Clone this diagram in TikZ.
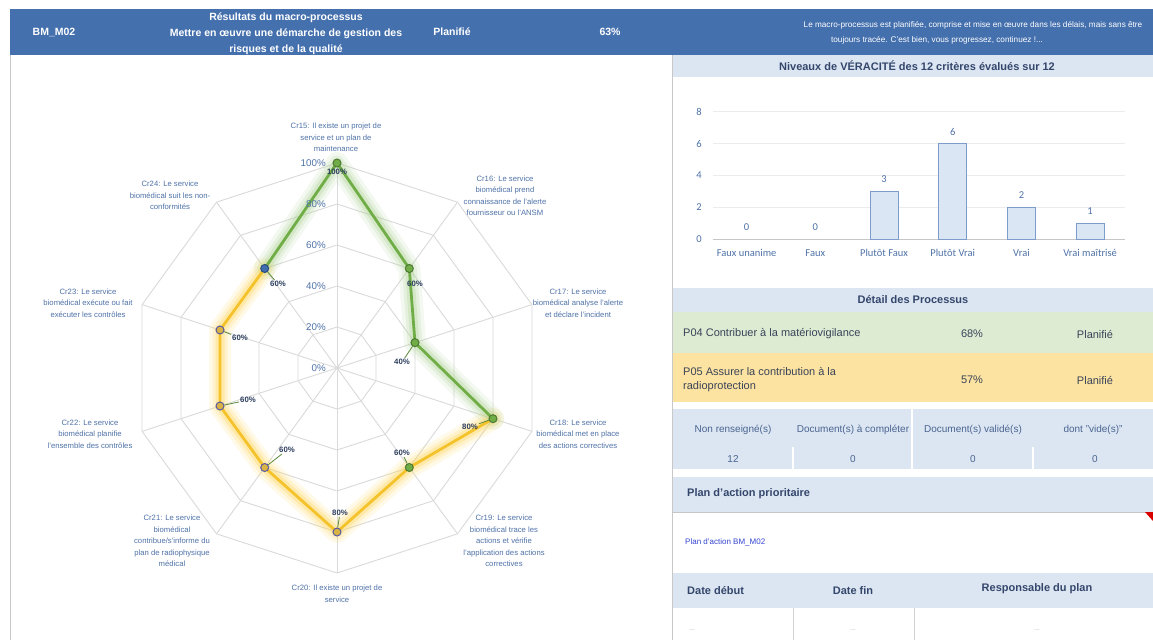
\documentclass[tikz,border=0pt]{standalone}
\usepackage{fontspec}
\setmainfont{Liberation Sans}
\newfontfamily\chartfont{Carlito}
\usetikzlibrary{calc}
\definecolor{hdrblue}{HTML}{4470AE}
\definecolor{paleblue}{HTML}{DCE6F2}
\definecolor{gridgray}{HTML}{DADADA}
\definecolor{axisblue}{HTML}{4F72A8}
\definecolor{navy}{HTML}{2E3F5F}
\definecolor{pgreen}{HTML}{DDEBD3}
\definecolor{pyellow}{HTML}{FCE3A1}
\definecolor{lgreen}{HTML}{70AD47}
\definecolor{lyellow}{HTML}{F4C22B}
\definecolor{glowyellow}{HTML}{FFD54F}
\definecolor{glowgreen}{HTML}{A9D18E}
\definecolor{dotyellow}{HTML}{D9B443}
\definecolor{dotblue}{HTML}{3E6EB0}
\definecolor{barfill}{HTML}{DAE6F4}
\definecolor{barline}{HTML}{7E9CCB}
\definecolor{txtdark}{HTML}{3A4358}
\definecolor{ttitle}{HTML}{34466B}
\definecolor{tblue}{HTML}{4A6490}
\definecolor{linkblue}{HTML}{3445D0}
\definecolor{bordergray}{HTML}{C8C8C8}
\begin{document}
\begin{tikzpicture}[x=1pt,y=-1pt,
  hdr/.style={text=white,font=\fontsize{10.5}{16}\selectfont\bfseries,inner sep=0pt},
  msg/.style={text=white,font=\fontsize{8.2}{10}\selectfont,inner sep=0pt},
  crlab/.style={text=axisblue,align=center,font=\fontsize{7.7}{11.5}\selectfont,inner sep=0pt},
  ticklab/.style={text=axisblue,font=\fontsize{9.8}{11}\selectfont,anchor=east,inner sep=0pt},
  datalab/.style={text=navy,font=\fontsize{7.8}{9}\selectfont\bfseries,inner sep=1pt},
  chartlab/.style={text=axisblue,font=\chartfont\fontsize{10.5}{12}\selectfont,inner sep=0pt},
  rowtitle/.style={text=ttitle,font=\fontsize{11}{13}\selectfont\bfseries,inner sep=0pt},
  rowtxt/.style={text=txtdark,font=\fontsize{11}{14}\selectfont,inner sep=0pt},
  tbltxt/.style={text=tblue,font=\fontsize{10}{12}\selectfont,inner sep=0pt},
  linktxt/.style={text=linkblue,font=\fontsize{8}{10}\selectfont,inner sep=0pt},
  dotstxt/.style={text=gray!60,font=\fontsize{7}{8}\selectfont,inner sep=0pt},
  grid/.style={draw=gridgray,line width=0.9pt},
  chartgrid/.style={draw=gray!15,line width=0.8pt},
  bar/.style={fill=barfill,draw=barline,line width=0.8pt},
  dot/.style={circle,inner sep=0pt,minimum size=8pt,line width=1pt},
  leader/.style={draw=lgreen!80!black,line width=0.8pt},
  sep/.style={draw=white,line width=1.2pt}]
\useasboundingbox (0,0) rectangle (1153,640);
\fill[white] (0,0) rectangle (1153,640);

% ---------- header ----------
\fill[hdrblue] (10,9) rectangle (1153,55);
\node[hdr] (bm) at (54,32) {BM\_M02};
\node[hdr,align=center] (title) at (286,33.5) {Résultats du macro-processus\\Mettre en œuvre une démarche de gestion des\\risques et de la qualité};
\node[hdr] (plan) at (452,32) {Planifié};
\node[hdr] (pct) at (610,32) {63\%};
\node[msg] (msg1) at (973,25) {Le macro-processus est planifiée, comprise et mise en œuvre dans les délais, mais sans être};
\node[msg] (msg2) at (937,40) {toujours tracée. C'est bien, vous progressez, continuez !...};

% panel borders
\draw[bordergray] (10.5,55) -- (10.5,640);
\draw[bordergray] (672.5,55) -- (672.5,640);

% ---------- bar chart ----------
\fill[paleblue] (673,55) rectangle (1153,77);
\node[rowtitle] (niv) at (917,66) {Niveaux de VÉRACITÉ des 12 critères évalués sur 12};
\foreach \v in {2,4,6,8} \draw[chartgrid] (713,{239-15.9*\v}) -- (1125,{239-15.9*\v});
\draw[gray!45,line width=0.8pt] (713,239) -- (1125,239);
\foreach \v in {0,2,4,6,8} \node[chartlab,anchor=east] (y\v) at (702,{239-15.9*\v}) {\v};
\foreach \i/\name/\v in {0/Faux unanime/0,1/Faux/0,2/Plutôt Faux/3,3/Plutôt Vrai/6,4/Vrai/2,5/Vrai maîtrisé/1}{
  \pgfmathsetmacro\cx{746.6+68.7*\i}
  \ifnum\v>0 \draw[bar] (\cx-14,239) rectangle (\cx+14,{239-15.9*\v}); \fi
  \node[chartlab] (v\i) at (\cx,{239-15.9*\v-12}) {\v};
  \node[chartlab] (c\i) at (\cx,253) {\name};
}

% ---------- detail ----------
\fill[paleblue] (673,288) rectangle (1153,312);
\node[rowtitle] (det) at (913,300) {Détail des Processus};
\fill[pgreen] (673,312) rectangle (1153,353);
\node[rowtxt,anchor=west] (p04) at (683,334) {P04 Contribuer à la matériovigilance};
\node[rowtxt] (p04v) at (972,334) {68\%};
\node[rowtxt] (p04s) at (1095,334) {Planifié};
\fill[pyellow] (673,353) rectangle (1153,402);
\node[rowtxt,anchor=west,align=left] (p05) at (683,380) {P05 Assurer la contribution à la\\radioprotection};
\node[rowtxt] (p05v) at (972,380) {57\%};
\node[rowtxt] (p05s) at (1095,380) {Planifié};

% ---------- documents table ----------
\fill[paleblue] (673,409) rectangle (1153,469);
\draw[sep] (912,409) -- (912,469);
\draw[sep] (793,447) -- (793,469);
\draw[sep] (1033,447) -- (1033,469);
\node[tbltxt] (h1) at (733,430) {Non renseigné(s)};
\node[tbltxt] (h2) at (853,430) {Document(s) à compléter};
\node[tbltxt] (h3) at (973,430) {Document(s) validé(s)};
\node[tbltxt] (h4) at (1093,430) {dont "vide(s)"};
\node[tbltxt] (n1) at (733,459) {12};
\node[tbltxt] (n2) at (853,459) {0};
\node[tbltxt] (n3) at (973,459) {0};
\node[tbltxt] (n4) at (1095,459) {0};

% ---------- action plan ----------
\fill[paleblue] (673,477) rectangle (1153,512);
\draw[gray!45,line width=1pt] (673,512) -- (1153,512);
\node[rowtitle,anchor=west] (pap) at (687,494) {Plan d'action prioritaire};
\fill[red!85!black] (1145,512) -- (1153,512) -- (1153,521) -- cycle;
\node[linktxt,anchor=west] (papl) at (685,542) {Plan d'action BM\_M02};
\fill[paleblue] (673,573) rectangle (1153,608);
\node[rowtitle,anchor=west] (dd) at (687,591) {Date début};
\node[rowtitle] (df) at (853,591) {Date fin};
\node[rowtitle] (rp) at (1037,589) {Responsable du plan};
\draw[gray!35,line width=1pt] (793,608) -- (793,640);
\draw[gray!35,line width=1pt] (914,608) -- (914,640);
\node[dotstxt] (e1) at (692,630) {...};
\node[dotstxt] (e2) at (853,630) {...};
\node[dotstxt] (e3) at (1037,630) {...};

% ---------- radar ----------
\begin{scope}[shift={(337pt,-368pt)},x=1pt,y=1pt]
  \foreach \r in {41,82,123,164,205}
    \draw[grid] (90:\r) -- (54:\r) -- (18:\r) -- (-18:\r) -- (-54:\r) -- (-90:\r) -- (-126:\r) -- (-162:\r) -- (162:\r) -- (126:\r) -- cycle;
  \foreach \a in {90,54,18,-18,-54,-90,-126,-162,162,126}
    \draw[grid] (0,0) -- (\a:205);
  \coordinate (p15) at (90:205);
  \coordinate (p16) at (54:123);
  \coordinate (p17) at (18:82);
  \coordinate (p18) at (-18:164);
  \coordinate (p19) at (-54:123);
  \coordinate (p20) at (-90:164);
  \coordinate (p21) at (-126:123);
  \coordinate (p22) at (-162:123);
  \coordinate (p23) at (162:123);
  \coordinate (p24) at (126:123);
\end{scope}

% glow
\foreach \w/\o in {22/0.13,15/0.18,9/0.28}{
  \draw[glowyellow,line width=\w pt,opacity=\o,line join=round,line cap=round]
    (p18) -- (p19) -- (p20) -- (p21) -- (p22) -- (p23) -- (p24);
  \draw[glowgreen,line width=\w pt,opacity=\o,line join=round,line cap=round]
    (p24) -- (p15) -- (p16) -- (p17) -- (p18);
}
\draw[lyellow,line width=2.8pt,line join=round] (p18) -- (p19) -- (p20) -- (p21) -- (p22) -- (p23) -- (p24);
\draw[lgreen,line width=2.8pt,line join=round] (p24) -- (p15) -- (p16) -- (p17) -- (p18);

% tick labels on top
\begin{scope}[shift={(337pt,-368pt)},x=1pt,y=1pt]
  \foreach \p/\r in {0/0,20/41,40/82,60/123,80/164,100/205}
    \node[ticklab] (t\p) at (-11,\r) {\p\%};
\end{scope}

\node[dot,fill=lgreen,draw=lgreen!70!black] (d15) at (p15) {};
\node[dot,fill=lgreen,draw=lgreen!70!black] (d16) at (p16) {};
\node[dot,fill=lgreen,draw=lgreen!70!black] (d17) at (p17) {};
\node[dot,fill=lgreen,draw=lgreen!70!black] (d18) at (p18) {};
\node[dot,fill=lgreen,draw=lgreen!70!black] (d19) at (p19) {};
\node[dot,fill=dotyellow,draw=gray!70!blue] (d20) at (p20) {};
\node[dot,fill=dotyellow,draw=gray!70!blue] (d21) at (p21) {};
\node[dot,fill=dotyellow,draw=gray!70!blue] (d22) at (p22) {};
\node[dot,fill=dotyellow,draw=gray!70!blue] (d23) at (p23) {};
\node[dot,fill=dotblue,draw=dotblue!70!black] (d24) at (p24) {};

% data labels
\node[datalab] (l15) at (337,172) {100\%};
\node[datalab] (l16) at (415,284) {60\%};
\node[datalab] (l17) at (402,362) {40\%};
\node[datalab] (l18) at (470,427) {80\%};
\node[datalab] (l19) at (402,453) {60\%};
\node[datalab] (l20) at (340,513) {80\%};
\node[datalab] (l21) at (287,450) {60\%};
\node[datalab] (l22) at (248,400) {60\%};
\node[datalab] (l23) at (240,338) {60\%};
\node[datalab] (l24) at (278,284) {60\%};
\draw[leader] (d17) -- (l17);
\draw[leader] (d18) -- (l18);
\draw[leader] (d19) -- (l19);
\draw[leader] (d20) -- (l20);
\draw[leader] (d21) -- (l21);
\draw[leader] (d22) -- (l22);
\draw[leader] (d23) -- (l23);
\draw[leader] (d24) -- (l24);

% axis labels
\node[crlab] (cr15) at (336,137.5) {Cr15: Il existe un projet de\\service et un plan de\\maintenance};
\node[crlab] (cr16) at (505,195.5) {Cr16: Le service\\biomédical prend\\connaissance de l'alerte\\fournisseur ou l'ANSM};
\node[crlab] (cr17) at (578,303) {Cr17: Le service\\biomédical analyse l'alerte\\et déclare l'incident};
\node[crlab] (cr18) at (578,434) {Cr18: Le service\\biomédical met en place\\des actions correctives};
\node[crlab] (cr19) at (504,541) {Cr19: Le service\\biomédical trace les\\actions et vérifie\\l'application des actions\\correctives};
\node[crlab] (cr20) at (337,593.5) {Cr20: Il existe un projet de\\service};
\node[crlab] (cr21) at (172,541) {Cr21: Le service\\biomédical\\contribue/s'informe du\\plan de radiophysique\\médical};
\node[crlab] (cr22) at (90,434) {Cr22: Le service\\biomédical planifie\\l'ensemble des contrôles};
\node[crlab] (cr23) at (88,303) {Cr23: Le service\\biomédical exécute ou fait\\exécuter les contrôles};
\node[crlab] (cr24) at (170,195.5) {Cr24: Le service\\biomédical suit les non-\\conformités};
\end{tikzpicture}
\end{document}
